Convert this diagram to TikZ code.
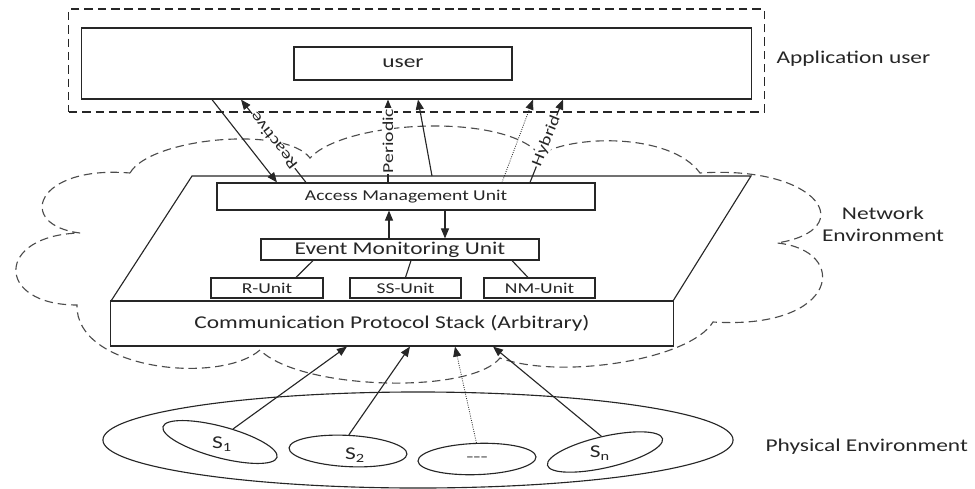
\documentclass[tikz,border=0pt]{standalone}
\usepackage{fontspec}
\setmainfont{Carlito}[FakeStretch=1.3]
\usetikzlibrary{arrows.meta,shapes.geometric}

\newcommand{\bigfont}{\fontsize{12.8}{15.6}\selectfont}
\newcommand{\smallfont}{\fontsize{10.7}{12}\selectfont}

\begin{document}
\begin{tikzpicture}[
    x=0.025cm, y=-0.025cm,
    color=black!85,
    line width=0.8pt,
    every node/.style = {
      inner sep=0pt
    },
    box/.style = {
      shape=rectangle,
      draw,
      fill=white,
      align=center
    },
    unit/.style = {
      box,
      minimum height=0.5cm,
      font=\smallfont
    },
    sensor/.style = {
      ellipse,
      draw,
      fill=white,
      minimum width=2.95cm,
      minimum height=0.78cm
    },
    arrow/.style = {
      -{Triangle[length=0.25cm, width=0.2cm]}
    },
    lbl/.style = {
      fill=white,
      inner sep=0.5pt,
      font=\fontsize{10.8}{12}\selectfont
    },
    cloudline/.style = {
      dash pattern=on 6pt off 3.5pt
    }
  ]
    \useasboundingbox (0,0) rectangle (975,488);

    % Network cloud
    \draw[cloudline, black!70] (130,173) .. controls (150,138) and (285,125) .. (310,158)
      .. controls (345,120) and (505,112) .. (540,155)
      .. controls (570,135) and (670,132) .. (700,173)
      .. controls (820,165) and (860,230) .. (777,243)
      .. controls (850,250) and (840,330) .. (713,322)
      .. controls (690,360) and (560,380) .. (500,358)
      .. controls (470,395) and (300,390) .. (260,350)
      .. controls (220,385) and (75,370) .. (77,305)
      .. controls (-5,305) and (-5,235) .. (80,233)
      .. controls (15,225) and (35,165) .. cycle;
    \node[font=\bigfont, align=center] (netenv) at (883,224) {Network\\Environment};

    % Application user
    \node[draw, cloudline, minimum width=17.375cm, minimum height=2.575cm] (appframe) at (416.5,60.5) {};
    \node[box, minimum width=16.725cm, minimum height=1.775cm] (panel) at (416.5,63.5) {};
    \node[box, minimum width=5.45cm, minimum height=0.825cm, font=\bigfont] (user) at (403,63.5) {user};
    \node[font=\bigfont, anchor=west] (appuser) at (776,59) {Application user};

    % Middleware block
    \draw[fill=white] (192,176) -- (751,176) -- (673,301) -- (111,301) -- cycle;
    \coordinate (blocktop) at (192,176);
    \node[box, minimum width=9.45cm, minimum height=0.675cm, font=\smallfont] (amu) at (406,196.5) {Access Management Unit};
    \node[box, minimum width=6.95cm, minimum height=0.525cm, font=\bigfont] (emu) at (400,249.5) {Event Monitoring Unit};
    \node[unit, minimum width=2.8cm] (runit) at (267,288) {R-Unit};
    \node[unit, minimum width=2.775cm] (ssunit) at (405.5,288) {SS-Unit};
    \node[unit, minimum width=2.775cm] (nmunit) at (539.5,288) {NM-Unit};
    \node[box, minimum width=14.05cm, minimum height=1.125cm, font=\bigfont] (cps) at (392,323.5) {Communication Protocol Stack (Arbitrary)};

    % Physical environment
    \node[ellipse, draw, minimum width=15.75cm, minimum height=2.4cm] (phys) at (418,440) {};
    \node[font=\bigfont, anchor=west] (physenv) at (765,447) {Physical Environment};
    \node[sensor, rotate=-15] (s1) at (220,442) {};
    \node[sensor, rotate=-3] (s2) at (348,451) {};
    \node[sensor, rotate=2] (sdots) at (477,459) {};
    \node[sensor, rotate=13] (sn) at (605,452) {};
    \node[font=\bigfont] at (222,444) {S\textsubscript{1}};
    \node[font=\bigfont] at (355,455) {S\textsubscript{2}};
    \node[font=\bigfont, text=black!60] at (477,460) {\mbox{-}\mbox{-}\mbox{-}};
    \node[font=\bigfont] at (600,453) {S\textsubscript{n}};

    % Arrows
    \draw[arrow] (panel.south -| 212,0) -- (amu.north -| 277,0);
    \draw[arrow] (amu.north -| 306,0) -- node[lbl, rotate=128] {Reactive} (panel.south -| 241,0);
    \draw[arrow] (amu.north -| 388,0) -- node[lbl, rotate=90] {Periodic} (panel.south -| 388,0);
    \draw[arrow] (blocktop -| 432,0) -- (panel.south -| 418,0);
    \draw[arrow, densely dotted, line width=0.6pt] (amu.north -| 502,0) -- (panel.south -| 533,0);
    \draw[arrow] (amu.north -| 530,0) -- node[lbl, rotate=68] {Hybrid} (panel.south -| 563,0);
    \draw[arrow] (emu.north -| 389,0) -- (amu.south -| 389,0);
    \draw[arrow] (amu.south -| 445,0) -- (emu.north -| 445,0);
    \draw (emu.south -| 313,0) -- (runit.north -| 296,0);
    \draw (emu.south -| 411,0) -- (ssunit.north);
    \draw (emu.south -| 512,0) -- (nmunit.north -| 528,0);
    \draw[arrow] (s1.60) -- (cps.south -| 347,0);
    \draw[arrow] (s2.north) -- (cps.south -| 410,0);
    \draw[arrow, densely dotted, line width=0.6pt] (sdots.north) -- (cps.south -| 455,0);
    \draw[arrow] (sn.north) -- (cps.south -| 493,0);

\end{tikzpicture}
\end{document}
